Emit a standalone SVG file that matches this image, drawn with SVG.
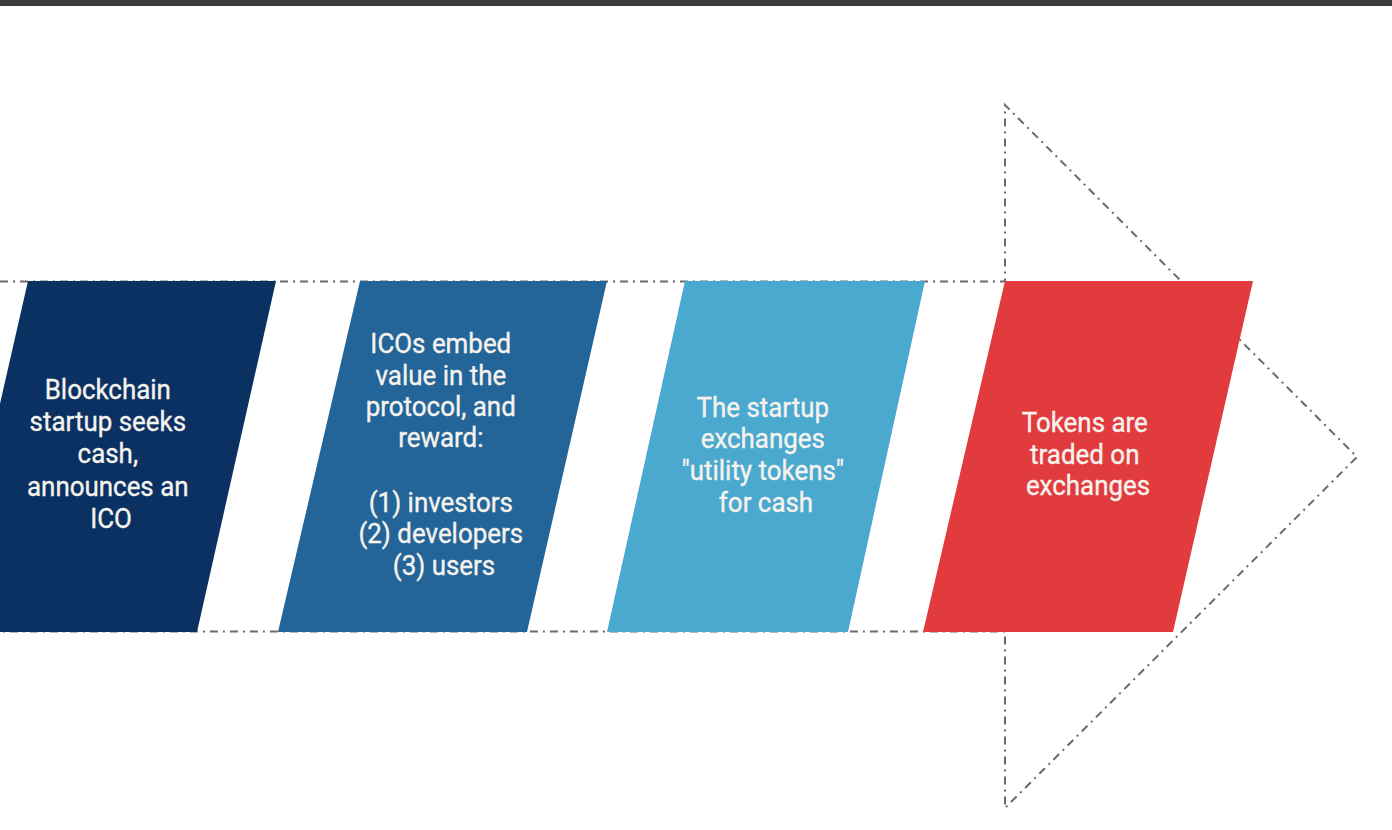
<svg xmlns="http://www.w3.org/2000/svg" width="1392" height="830" viewBox="0 0 1392 830">
  <style>
    .outline { fill: none; stroke: #6a6a6a; stroke-width: 2; stroke-dasharray: 8 5 2 5; }
    .label { font-family: Roboto, "Liberation Sans", sans-serif; font-size: 27px; fill: #f6f3ee; text-anchor: middle; stroke: #f6f3ee; stroke-width: 0.35; }
  </style>
  <rect x="0" y="0" width="1392" height="830" fill="#ffffff"/>
  <rect x="0" y="0" width="1392" height="6" fill="#3b3b3b"/>

  <!-- dash-dot arrow outline behind the steps -->
  <g id="connectors">
    <path class="outline" d="M0 281.5 H1005 V105 L1357 457 L1005 808 V631.5 H0"/>
  </g>

  <g id="step1">
    <polygon points="28,281 276,281 197,632 -52,632" fill="#0a3162"/>
    <text class="label" transform="translate(111 0) scale(0.96 1)">
      <tspan x="0" y="399">Blockchain</tspan>
      <tspan x="0" y="431">startup seeks</tspan>
      <tspan x="0" y="463">cash,</tspan>
      <tspan x="0" y="496">announces an</tspan>
      <tspan x="0" y="528">ICO</tspan>
    </text>
  </g>

  <g id="step2">
    <polygon points="360,281 607,281 527,632 278,632" fill="#236599"/>
    <text class="label" transform="translate(444 0) scale(0.96 1)">
      <tspan x="0" y="353">ICOs embed</tspan>
      <tspan x="0" y="385">value in the</tspan>
      <tspan x="0" y="416">protocol, and</tspan>
      <tspan x="0" y="447">reward:</tspan>
      <tspan x="0" y="512">(1) investors</tspan>
      <tspan x="0" y="543">(2) developers</tspan>
      <tspan x="0" y="575">(3) users</tspan>
    </text>
  </g>

  <g id="step3">
    <polygon points="685,281 925,281 848,632 607,632" fill="#4ba9d0"/>
    <text class="label" transform="translate(766 0) scale(0.96 1)">
      <tspan x="0" y="417">The startup</tspan>
      <tspan x="0" y="448">exchanges</tspan>
      <tspan x="0" y="480">"utility tokens"</tspan>
      <tspan x="0" y="512">for cash</tspan>
    </text>
  </g>

  <g id="step4">
    <polygon points="1005,281 1253,281 1173,632 923,632" fill="#e23b3d"/>
    <text class="label" transform="translate(1088 0) scale(0.96 1)">
      <tspan x="0" y="432">Tokens are</tspan>
      <tspan x="0" y="464">traded on</tspan>
      <tspan x="0" y="495">exchanges</tspan>
    </text>
  </g>
</svg>
